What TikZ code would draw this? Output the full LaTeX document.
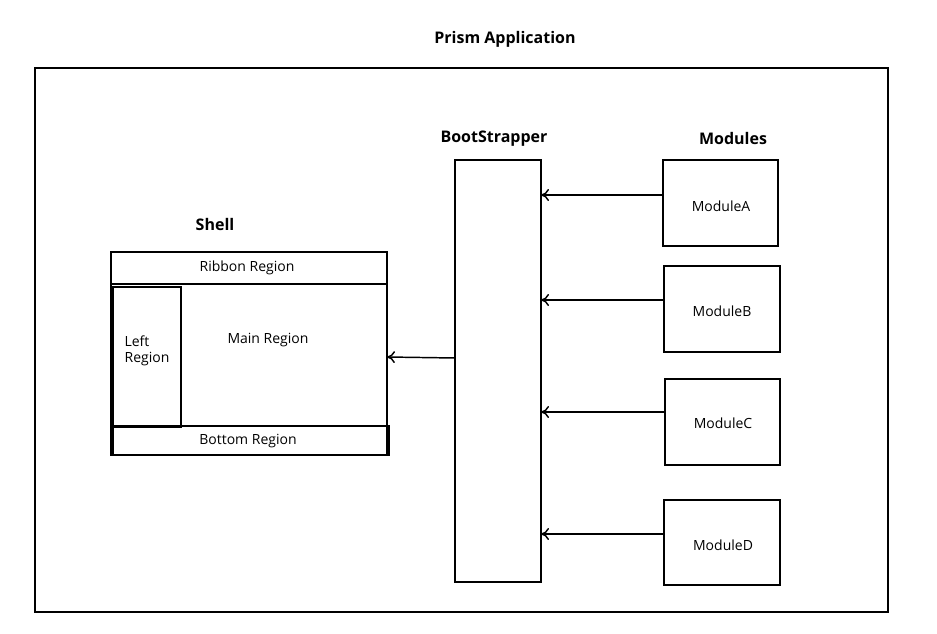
\documentclass[tikz,border=0pt]{standalone}
\usepackage{fontspec}
\setmainfont{Open Sans}
\usetikzlibrary{arrows.meta}
\begin{document}
\begin{tikzpicture}[x=0.75pt,y=-0.75pt,
    title/.style={font=\bfseries\fontsize{12}{14}\selectfont},
    lbl/.style={font=\fontsize{10.5}{12}\selectfont,align=left},
    feed/.style={->,line width=1.1pt,>={To[length=6pt,width=9pt]}}]
\useasboundingbox (0,0) rectangle (937,634);
\draw[line width=1.1pt] (35,68) rectangle (888,612);
\node[title] (app) at (505,39) {Prism Application};
% bootstrapper
\draw[line width=1.1pt] (455,160) rectangle (541,582);
\node[title] (bslbl) at (494,139) {BootStrapper};
\coordinate (bsA) at (541,195);
\coordinate (bsB) at (541,300);
\coordinate (bsC) at (541,412);
\coordinate (bsD) at (541,534);
\coordinate (bsS) at (455,358);
% modules
\node[title] (modlbl) at (733,139) {Modules};
\draw[line width=1.1pt] (663,160) rectangle (778,246);
\draw[line width=1.1pt] (664,266) rectangle (780,352);
\draw[line width=1.1pt] (665,379) rectangle (780,465);
\draw[line width=1.1pt] (664,500) rectangle (780,585);
\node[lbl] (modA) at (721,206) {ModuleA};
\node[lbl] (modB) at (722,311) {ModuleB};
\node[lbl] (modC) at (723,423) {ModuleC};
\node[lbl] (modD) at (723,545) {ModuleD};
\coordinate (inA) at (663,195);
\coordinate (inB) at (664,300);
\coordinate (inC) at (665,412);
\coordinate (inD) at (664,534);
\draw[feed] (inA) -- (bsA);
\draw[feed] (inB) -- (bsB);
\draw[feed] (inC) -- (bsC);
\draw[feed] (inD) -- (bsD);
% shell
\node[title] (shlbl) at (215,225) {Shell};
\draw[line width=1.1pt] (111,252) rectangle (387,455);
\draw[line width=1.1pt] (111,252) rectangle (387,284);
\draw[line width=1.1pt] (113,287) rectangle (181,427);
\draw[line width=1.1pt] (113,426) rectangle (389,455);
\node[lbl] (ribbon) at (247,268) {Ribbon Region};
\node[lbl] (left) at (147,351) {Left\\Region};
\node[lbl] (main) at (268,340) {Main Region};
\node[lbl] (bottom) at (248,441) {Bottom Region};
\coordinate (shIn) at (387,357);
\draw[feed] (bsS) -- (shIn);
\end{tikzpicture}
\end{document}
